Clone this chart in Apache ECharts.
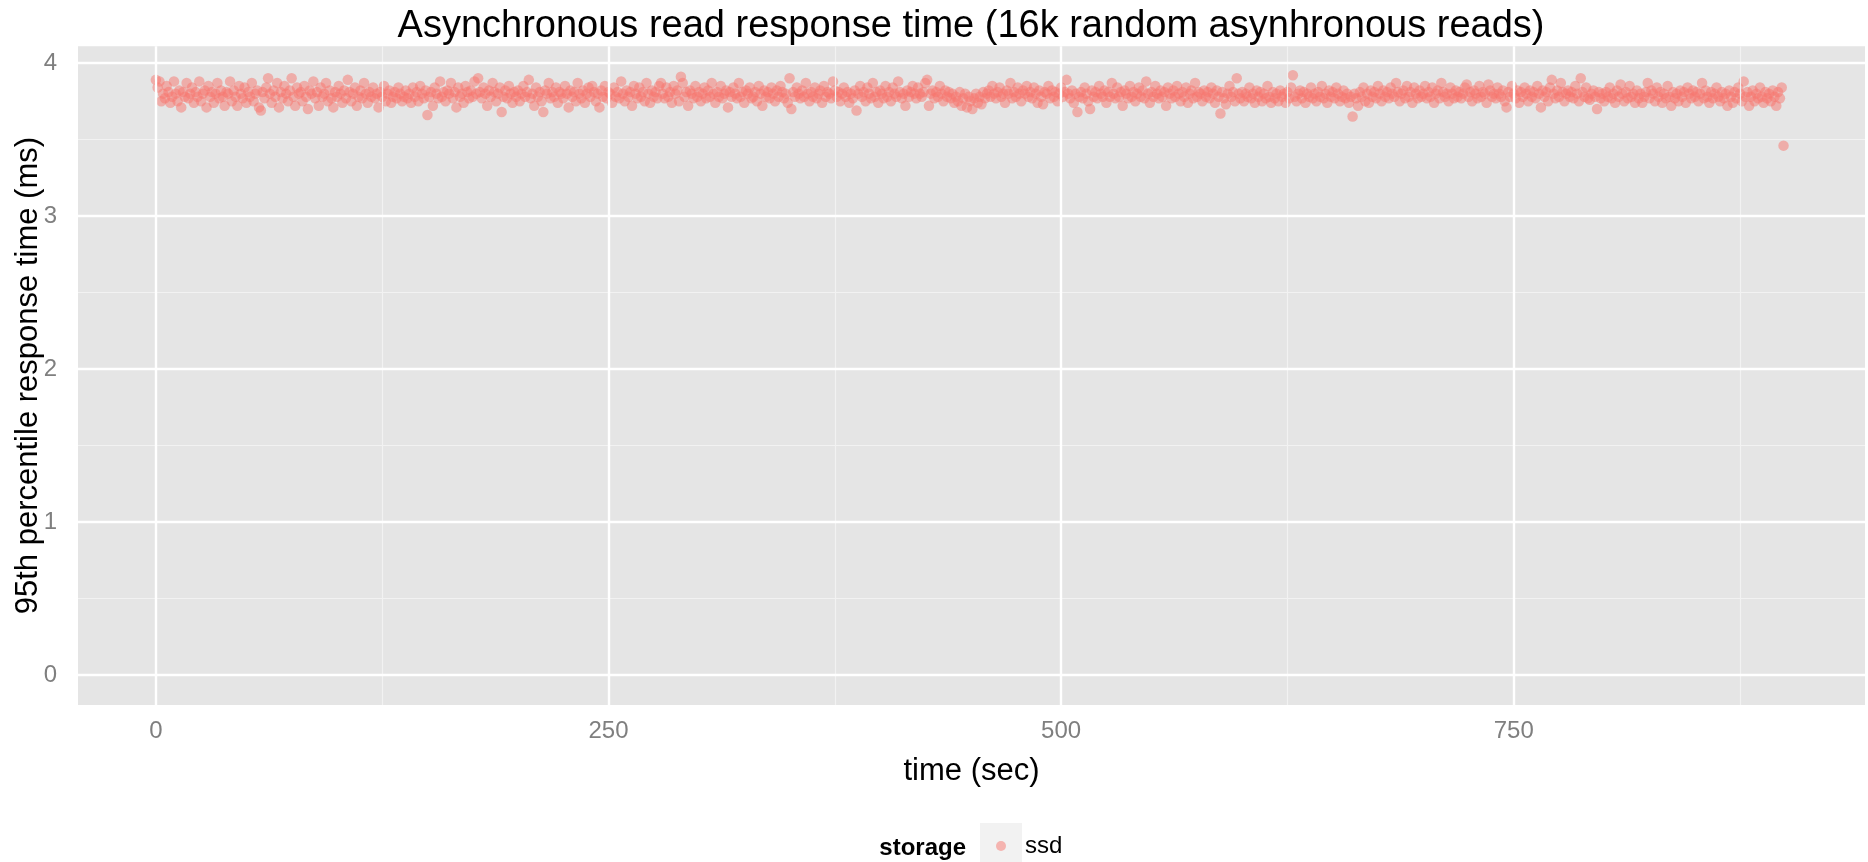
<!DOCTYPE html>
<html>
<head>
<meta charset="utf-8">
<title>Asynchronous read response time</title>
<script src="https://cdn.jsdelivr.net/npm/echarts@6/dist/echarts.min.js"></script>
<style>
  html, body { margin: 0; padding: 0; background: #ffffff; }
  #chart { width: 1868px; height: 862px; }
</style>
</head>
<body>
<div id="chart"></div>
<script>
// Chart text
const chartTitle = 'Asynchronous read response time (16k random asynhronous reads)';
const xAxisTitle = 'time (sec)';
const yAxisTitle = '95th percentile response time (ms)';
const legendTitle = 'storage';
const seriesName = 'ssd';

// 95th percentile response time (ms), one sample per second starting at t = 0
const respTimeMs = [
  3.89,3.84,3.88,3.75,3.80,3.77,3.85,3.81,3.74,3.78,3.88,3.80,3.75,3.82,3.71,3.81,3.78,3.87,3.77,3.80,
  3.84,3.74,3.81,3.78,3.88,3.75,3.80,3.82,3.71,3.85,3.78,3.81,3.74,3.80,3.87,3.77,3.82,3.78,3.72,3.81,
  3.80,3.88,3.75,3.82,3.78,3.72,3.85,3.80,3.77,3.84,3.74,3.81,3.78,3.87,3.75,3.80,3.82,3.71,3.69,3.81,
  3.77,3.84,3.90,3.80,3.74,3.82,3.78,3.87,3.71,3.81,3.77,3.85,3.80,3.75,3.82,3.90,3.78,3.72,3.84,3.80,
  3.81,3.75,3.85,3.78,3.70,3.82,3.80,3.88,3.77,3.81,3.72,3.84,3.78,3.80,3.87,3.75,3.82,3.77,3.71,3.81,
  3.78,3.85,3.80,3.74,3.82,3.77,3.89,3.81,3.75,3.80,3.84,3.72,3.78,3.82,3.77,3.87,3.80,3.74,3.81,3.78,
  3.84,3.77,3.80,3.71,3.81,3.78,3.85,3.75,3.80,3.82,3.74,3.78,3.81,3.77,3.84,3.80,3.75,3.78,3.82,3.77,
  3.80,3.74,3.84,3.78,3.81,3.75,3.85,3.80,3.77,3.82,3.66,3.78,3.81,3.72,3.84,3.80,3.77,3.88,3.78,3.81,
  3.75,3.82,3.80,3.87,3.77,3.81,3.71,3.84,3.78,3.80,3.74,3.85,3.81,3.77,3.82,3.78,3.88,3.80,3.90,3.81,
  3.77,3.84,3.80,3.72,3.82,3.78,3.87,3.81,3.75,3.80,3.84,3.68,3.78,3.82,3.77,3.85,3.80,3.74,3.81,3.78,
  3.82,3.75,3.80,3.85,3.78,3.81,3.89,3.77,3.80,3.72,3.84,3.78,3.81,3.75,3.68,3.82,3.80,3.87,3.77,3.81,
  3.78,3.84,3.74,3.81,3.80,3.77,3.85,3.80,3.71,3.82,3.78,3.81,3.75,3.87,3.80,3.77,3.82,3.74,3.80,3.84,
  3.78,3.85,3.81,3.75,3.80,3.71,3.82,3.78,3.85,3.77,3.81,3.80,3.74,3.84,3.78,3.81,3.77,3.88,3.80,3.75,
  3.82,3.78,3.81,3.72,3.85,3.80,3.77,3.84,3.78,3.81,3.75,3.87,3.80,3.74,3.82,3.78,3.81,3.77,3.85,3.87,
  3.80,3.77,3.84,3.78,3.81,3.74,3.85,3.80,3.82,3.75,3.91,3.87,3.78,3.81,3.72,3.82,3.80,3.77,3.85,3.78,
  3.81,3.75,3.80,3.84,3.77,3.82,3.78,3.87,3.80,3.74,3.81,3.78,3.85,3.77,3.80,3.82,3.71,3.81,3.78,3.84,
  3.80,3.77,3.87,3.78,3.81,3.74,3.82,3.80,3.84,3.77,3.78,3.81,3.75,3.85,3.80,3.72,3.82,3.78,3.81,3.77,
  3.84,3.80,3.75,3.82,3.78,3.85,3.81,3.77,3.80,3.74,3.90,3.70,3.81,3.78,3.84,3.80,3.77,3.82,3.78,3.87,
  3.80,3.75,3.81,3.78,3.84,3.77,3.80,3.82,3.74,3.85,3.78,3.81,3.80,3.77,3.88,3.82,3.78,3.81,3.75,3.80,
  3.84,3.78,3.81,3.74,3.80,3.77,3.82,3.69,3.80,3.85,3.78,3.81,3.75,3.84,3.80,3.77,3.87,3.78,3.81,3.74,
  3.82,3.80,3.77,3.85,3.78,3.81,3.75,3.84,3.80,3.78,3.88,3.81,3.77,3.80,3.72,3.82,3.78,3.81,3.85,3.80,
  3.77,3.84,3.80,3.78,3.81,3.87,3.89,3.72,3.80,3.82,3.77,3.81,3.78,3.85,3.80,3.75,3.82,3.78,3.81,3.77,
  3.80,3.74,3.78,3.75,3.81,3.72,3.77,3.80,3.71,3.78,3.75,3.70,3.77,3.80,3.74,3.78,3.73,3.81,3.77,3.80,
  3.82,3.78,3.85,3.80,3.77,3.81,3.84,3.78,3.80,3.74,3.82,3.80,3.87,3.77,3.81,3.78,3.84,3.80,3.75,3.82,
  3.80,3.85,3.78,3.81,3.77,3.84,3.80,3.74,3.82,3.78,3.73,3.81,3.80,3.85,3.77,3.82,3.78,3.81,3.75,3.80,
  3.84,3.78,3.81,3.89,3.80,3.77,3.82,3.74,3.80,3.68,3.78,3.81,3.77,3.84,3.80,3.75,3.70,3.82,3.78,3.81,
  3.77,3.85,3.80,3.78,3.82,3.74,3.81,3.78,3.87,3.80,3.77,3.84,3.78,3.81,3.72,3.82,3.80,3.77,3.85,3.78,
  3.81,3.75,3.80,3.84,3.78,3.82,3.77,3.88,3.80,3.74,3.81,3.78,3.85,3.80,3.77,3.82,3.78,3.81,3.72,3.84,
  3.80,3.77,3.82,3.78,3.85,3.80,3.75,3.81,3.78,3.84,3.74,3.80,3.82,3.77,3.87,3.78,3.81,3.80,3.75,3.82,
  3.78,3.81,3.77,3.84,3.80,3.74,3.82,3.78,3.67,3.81,3.77,3.73,3.80,3.85,3.78,3.81,3.75,3.90,3.80,3.77,
  3.81,3.75,3.80,3.78,3.84,3.77,3.80,3.74,3.82,3.78,3.81,3.75,3.80,3.77,3.85,3.78,3.74,3.81,3.77,3.80,
  3.75,3.82,3.78,3.80,3.74,3.81,3.77,3.84,3.92,3.78,3.75,3.80,3.82,3.77,3.81,3.74,3.80,3.78,3.84,3.77,
  3.80,3.75,3.81,3.78,3.85,3.77,3.80,3.74,3.82,3.78,3.81,3.77,3.84,3.80,3.75,3.78,3.82,3.77,3.80,3.74,
  3.78,3.65,3.80,3.77,3.72,3.81,3.78,3.84,3.75,3.80,3.74,3.82,3.78,3.81,3.77,3.85,3.80,3.75,3.82,3.78,
  3.81,3.77,3.84,3.80,3.78,3.87,3.81,3.75,3.80,3.82,3.77,3.85,3.78,3.81,3.74,3.84,3.80,3.77,3.82,3.78,
  3.80,3.85,3.77,3.81,3.78,3.84,3.74,3.80,3.82,3.77,3.87,3.81,3.78,3.80,3.75,3.84,3.80,3.77,3.82,3.78,
  3.81,3.77,3.80,3.84,3.86,3.78,3.81,3.75,3.82,3.80,3.77,3.85,3.78,3.81,3.80,3.74,3.86,3.82,3.78,3.80,
  3.77,3.84,3.80,3.78,3.82,3.75,3.71,3.81,3.78,3.85,3.80,3.77,3.82,3.74,3.81,3.78,3.84,3.80,3.75,3.82,
  3.78,3.81,3.77,3.85,3.80,3.71,3.82,3.78,3.81,3.75,3.84,3.89,3.80,3.77,3.82,3.78,3.87,3.81,3.75,3.80,
  3.82,3.78,3.81,3.77,3.85,3.80,3.75,3.90,3.81,3.78,3.84,3.77,3.76,3.80,3.82,3.78,3.70,3.81,3.77,3.80,
  3.75,3.81,3.78,3.84,3.77,3.80,3.74,3.82,3.78,3.86,3.80,3.75,3.81,3.77,3.85,3.78,3.80,3.74,3.82,3.77,
  3.80,3.74,3.78,3.81,3.87,3.77,3.82,3.80,3.75,3.84,3.78,3.81,3.74,3.80,3.77,3.85,3.78,3.72,3.81,3.77,
  3.80,3.75,3.82,3.78,3.81,3.74,3.84,3.80,3.77,3.82,3.78,3.81,3.75,3.80,3.87,3.77,3.82,3.78,3.74,3.81,
  3.77,3.80,3.84,3.78,3.75,3.81,3.77,3.80,3.72,3.82,3.78,3.74,3.81,3.77,3.84,3.80,3.75,3.88,3.78,3.81,
  3.72,3.78,3.82,3.75,3.80,3.77,3.84,3.78,3.74,3.81,3.77,3.80,3.75,3.82,3.78,3.72,3.81,3.77,3.84,3.46
];

// Axis breaks
const xTicks = [0, 250, 500, 750];
const xMinorTicks = [125, 375, 625, 875];
const yTicks = [0, 1, 2, 3, 4];
const yMinorTicks = [0.5, 1.5, 2.5, 3.5];

// Visible axis ranges
const xRange = [-43, 944];
const yRange = [-0.196, 4.11];

// Build [time, value] pairs
const points = respTimeMs.map((v, t) => [t, v]);

const FONT = '"Liberation Sans", Arial, Helvetica, sans-serif';
const POINT_COLOR = '#F8766D';
const GREY50 = '#7F7F7F';

const chart = echarts.init(document.getElementById('chart'), null, { renderer: 'canvas' });

function gridLines(xs, ys) {
  return xs.map(v => ({ xAxis: v })).concat(ys.map(v => ({ yAxis: v })));
}

chart.setOption({
  animation: false,
  backgroundColor: '#ffffff',
  textStyle: { fontFamily: FONT },
  title: {
    text: chartTitle,
    left: 971,
    top: 8,
    padding: 0,
    textAlign: 'center',
    textStyle: { fontFamily: FONT, fontSize: 38, fontWeight: 'normal', color: '#000000' }
  },
  grid: {
    left: 78,
    right: 3,
    top: 46.2,
    bottom: 157,
    show: true,
    backgroundColor: '#E5E5E5',
    borderWidth: 0,
    containLabel: false,
    outerBoundsMode: 'none'
  },
  legend: {
    data: [seriesName],
    left: 996,
    top: 834,
    padding: 0,
    itemWidth: 10,
    itemHeight: 10,
    icon: 'circle',
    selectedMode: false,
    textStyle: { fontFamily: FONT, fontSize: 24, color: '#000000', padding: [0, 0, 0, 14] }
  },
  xAxis: {
    type: 'value',
    min: xRange[0],
    max: xRange[1],
    name: xAxisTitle,
    nameLocation: 'middle',
    nameGap: 51,
    nameMoveOverlap: false,
    nameTextStyle: { fontFamily: FONT, fontSize: 31, color: '#000000' },
    axisLine: { show: false },
    splitLine: { show: false },
    axisTick: { show: true, customValues: xTicks, length: 10, lineStyle: { color: GREY50, width: 2 } },
    axisLabel: { customValues: xTicks, color: GREY50, fontSize: 24, margin: 14, fontFamily: FONT }
  },
  yAxis: {
    type: 'value',
    min: yRange[0],
    max: yRange[1],
    name: yAxisTitle,
    nameLocation: 'middle',
    nameGap: 34,
    nameMoveOverlap: false,
    nameTextStyle: { fontFamily: FONT, fontSize: 31, color: '#000000' },
    axisLine: { show: false },
    splitLine: { show: false },
    axisTick: { show: true, customValues: yTicks, length: 10, lineStyle: { color: GREY50, width: 2 } },
    axisLabel: { customValues: yTicks, color: GREY50, fontSize: 24, margin: 21, fontFamily: FONT }
  },
  graphic: [
    {
      type: 'rect',
      left: 980, top: 823, z: 0,
      shape: { width: 42, height: 42 },
      style: { fill: '#F2F2F2' },
      silent: true
    },
    {
      type: 'text',
      right: 1868 - 966, top: 836,
      style: { text: legendTitle, fontFamily: FONT, fontSize: 24, fontWeight: 'bold', fill: '#000000' },
      silent: true
    }
  ],
  series: [
    {
      // minor panel grid
      name: 'minor-grid',
      type: 'scatter',
      data: [],
      z: 1,
      silent: true,
      markLine: {
        silent: true,
        symbol: 'none',
        label: { show: false },
        animation: false,
        lineStyle: { color: '#F2F2F2', width: 1.2, type: 'solid' },
        data: gridLines(xMinorTicks, yMinorTicks)
      }
    },
    {
      // major panel grid
      name: 'major-grid',
      type: 'scatter',
      data: [],
      z: 1.5,
      silent: true,
      markLine: {
        silent: true,
        symbol: 'none',
        label: { show: false },
        animation: false,
        lineStyle: { color: '#FFFFFF', width: 2.4, type: 'solid' },
        data: gridLines(xTicks, yTicks)
      }
    },
    {
      name: seriesName,
      type: 'scatter',
      data: points,
      z: 3,
      symbol: 'circle',
      symbolSize: 10.5,
      itemStyle: { color: POINT_COLOR, opacity: 0.5 },
      emphasis: { disabled: true }
    }
  ]
});
</script>
</body>
</html>
